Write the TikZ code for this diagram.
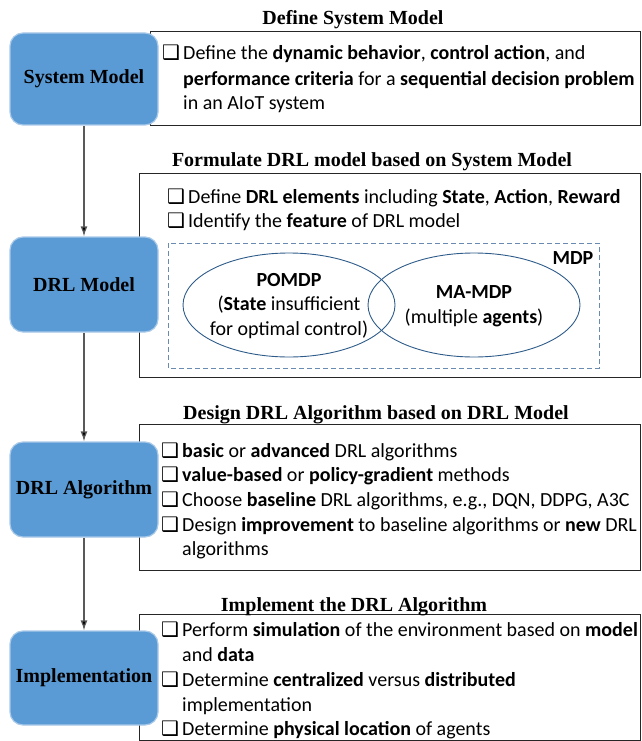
\documentclass[tikz,border=0pt]{standalone}
\usepackage{fontspec}
\setmainfont{Carlito}
\newfontfamily\tnr{Liberation Serif}
\newfontfamily\dv{DejaVu Sans}
\usetikzlibrary{arrows.meta}
\definecolor{boxblue}{HTML}{5B9BD5}
\definecolor{boxedge}{HTML}{A9C9E8}
\definecolor{ellblue}{HTML}{2E5C8A}
\definecolor{dashblue}{HTML}{6A8BB0}
\newcommand\cbx{\makebox[21pt][l]{\dv\fontsize{20}{20}\selectfont ❑}}
\begin{document}
\begin{tikzpicture}[x=1pt,y=-1pt,
  txt/.style={anchor=base west, inner sep=0pt, font=\fontsize{20}{24}\selectfont},
  ttl/.style={anchor=base, inner sep=0pt, font=\tnr\bfseries\fontsize{20}{24}\selectfont},
  panel/.style={draw=black!85, line width=1pt},
  stage/.style={fill=boxblue, draw=boxedge, line width=1.2pt, rounded corners=13pt, inner sep=0pt, minimum width=148pt, font=\tnr\bfseries\fontsize{20}{24}\selectfont},
  flow/.style={draw=black!65, line width=1.2pt, -{Latex[length=10pt,width=7pt,fill=black]}},
  ell/.style={draw=ellblue, line width=0.9pt},
  mdpbox/.style={draw=dashblue, line width=1pt, dash pattern=on 5pt off 3pt},
  inell/.style={align=center, inner sep=0pt, font=\fontsize{20}{24.5}\selectfont},
]
\useasboundingbox (0,0) rectangle (642,741);

% panels
\draw[panel] (150,32) rectangle (640,126);
\draw[panel] (139,173) rectangle (640,377);
\draw[panel] (139,424) rectangle (640,570);
\draw[panel] (139,614) rectangle (640,740);

% titles
\node[ttl] (t1) at (353,24.5) {Define System Model};
\node[ttl] (t2) at (372,166.5) {Formulate DRL model based on System Model};
\node[ttl] (t3) at (376,419.5) {Design DRL Algorithm based on DRL Model};
\node[ttl] (t4) at (354,611.5) {Implement the DRL Algorithm};

% panel 1 text
\node[txt] (a1) at (162,59.5) {\cbx Define the \textbf{dynamic behavior}, \textbf{control action}, and};
\node[txt] (a2) at (183,85.5) {\textbf{performance criteria} for a \textbf{sequential decision problem}};
\node[txt] (a3) at (183,109.5) {in an AIoT system};

% panel 2 text
\node[txt] (b1) at (167,203.5) {\cbx Define \textbf{DRL elements} including \textbf{State}, \textbf{Action}, \textbf{Reward}};
\node[txt] (b2) at (167,227.5) {\cbx Identify the \textbf{feature} of DRL model};

\draw[mdpbox] (168,243) rectangle (599,368);
\node[inell] (mdp) at (573,258) {\textbf{MDP}};
\draw[ell] (289,305) ellipse [x radius=106, y radius=52];
\draw[ell] (474,305) ellipse [x radius=106, y radius=52];
\node[inell] (pomdp) at (289,306) {\textbf{POMDP}\\(\textbf{State} insufficient\\for optimal control)};
\node[inell] (mamdp) at (474,306) {\textbf{MA-MDP}\\(multiple \textbf{agents})};

% panel 3 text
\node[txt] (c1) at (161,457.5) {\cbx \textbf{basic} or \textbf{advanced} DRL algorithms};
\node[txt] (c2) at (161,481.5) {\cbx \textbf{value-based} or \textbf{policy-gradient} methods};
\node[txt] (c3) at (161,506.5) {\cbx Choose \textbf{baseline} DRL algorithms, e.g., DQN, DDPG, A3C};
\node[txt] (c4) at (161,531.5) {\cbx Design \textbf{improvement} to baseline algorithms or \textbf{new} DRL};
\node[txt] (c5) at (182,555.5) {algorithms};

% panel 4 text
\node[txt] (d1) at (161,636.5) {\cbx Perform \textbf{simulation} of the environment based on \textbf{model}};
\node[txt] (d2) at (182,661.5) {and \textbf{data}};
\node[txt] (d3) at (161,686.5) {\cbx Determine \textbf{centralized} versus \textbf{distributed}};
\node[txt] (d4) at (182,711.5) {implementation};
\node[txt] (d5) at (161,735.5) {\cbx Determine \textbf{physical location} of agents};

% stage boxes
\node[stage, minimum height=92pt] (sm) at (84,79) {System Model};
\node[stage, minimum height=95pt] (dm) at (84,284.5) {DRL Model};
\node[stage, minimum height=95pt] (da) at (84,489.5) {DRL Algorithm};
\node[stage, minimum height=94pt] (im) at (84,678) {Implementation};

\draw[flow] (sm.south) -- (dm.north);
\draw[flow] (dm.south) -- (da.north);
\draw[flow] (da.south) -- (im.north);
\end{tikzpicture}
\end{document}
